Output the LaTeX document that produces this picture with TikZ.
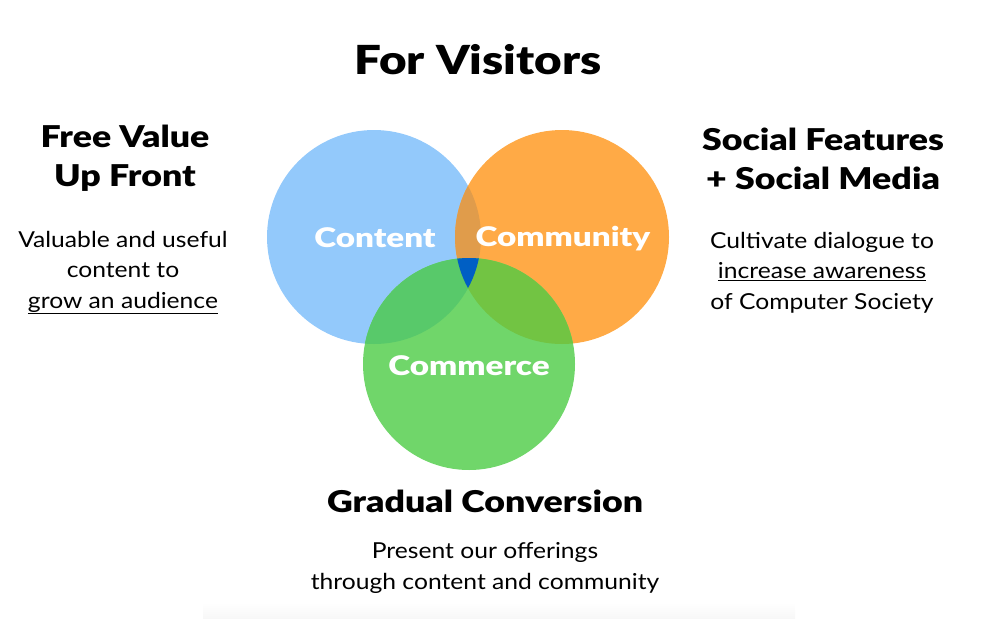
\documentclass[tikz,border=0pt]{standalone}
\usepackage{fontspec}
\setmainfont{Lato}[FakeStretch=1.12]
\newfontfamily\headfont{Lato Black}[FakeStretch=1.19]
\newfontfamily\labelfont{Lato Black}[FakeStretch=1.23]
\definecolor{cblue}{HTML}{93C9FB}
\definecolor{corange}{HTML}{FFAA46}
\definecolor{cgreen}{HTML}{70D66A}
\definecolor{cbo}{HTML}{E09C4B}
\definecolor{cbg}{HTML}{58C96A}
\definecolor{cog}{HTML}{72C443}
\definecolor{ctri}{HTML}{005FC4}
\tikzset{
  circlabel/.style={text=white,font=\fontsize{27}{32}\selectfont\labelfont,inner sep=0pt},
  headtext/.style={align=center,font=\fontsize{30}{39}\selectfont\headfont,inner sep=0pt},
  bodytext/.style={align=center,font=\fontsize{22}{30.5}\selectfont,inner sep=0pt},
}
\begin{document}
\begin{tikzpicture}[x=1pt,y=-1pt]
\useasboundingbox (0,0) rectangle (987,618);
\shade[top color=white,bottom color=black!3] (203,602) rectangle (795,618);
\coordinate (cb) at (374,237);
\coordinate (co) at (562,237);
\coordinate (cg) at (469,364);
\fill[cblue] (cb) circle[radius=107pt];
\fill[corange] (co) circle[radius=107pt];
\fill[cgreen] (cg) circle[radius=106pt];
\begin{scope}\clip (cb) circle[radius=107pt]; \fill[cbo] (co) circle[radius=107pt];\end{scope}
\begin{scope}\clip (cb) circle[radius=107pt]; \fill[cbg] (cg) circle[radius=106pt];\end{scope}
\begin{scope}\clip (co) circle[radius=107pt]; \fill[cog] (cg) circle[radius=106pt];\end{scope}
\begin{scope}\clip (cb) circle[radius=107pt]; \clip (co) circle[radius=107pt]; \fill[ctri] (cg) circle[radius=106pt];\end{scope}
\node[circlabel] (content) at (375,238) {Content};
\node[circlabel] (community) at (563,239) {Community};
\node[circlabel] (commerce) at (469,366) {Commerce};
\node[font=\fontsize{40}{48}\selectfont\headfont,inner sep=0pt] (title) at (478,60) {For Visitors};
\node[headtext] (lhead) at (125,158.5) {Free Value\\Up Front};
\node[bodytext] (lbody) at (123,272.5) {Valuable and useful\\content to\\\underline{grow an audience}};
\node[headtext] (rhead) at (823,159) {Social Features\\+ Social Media};
\node[bodytext] (rbody) at (822,272.5) {Cultivate dialogue to\\\underline{increase awareness}\\of Computer Society};
\node[headtext] (bhead) at (485,501) {Gradual Conversion};
\node[bodytext] (bbody) at (485,568) {Present our offerings\\through content and community};
\end{tikzpicture}
\end{document}
